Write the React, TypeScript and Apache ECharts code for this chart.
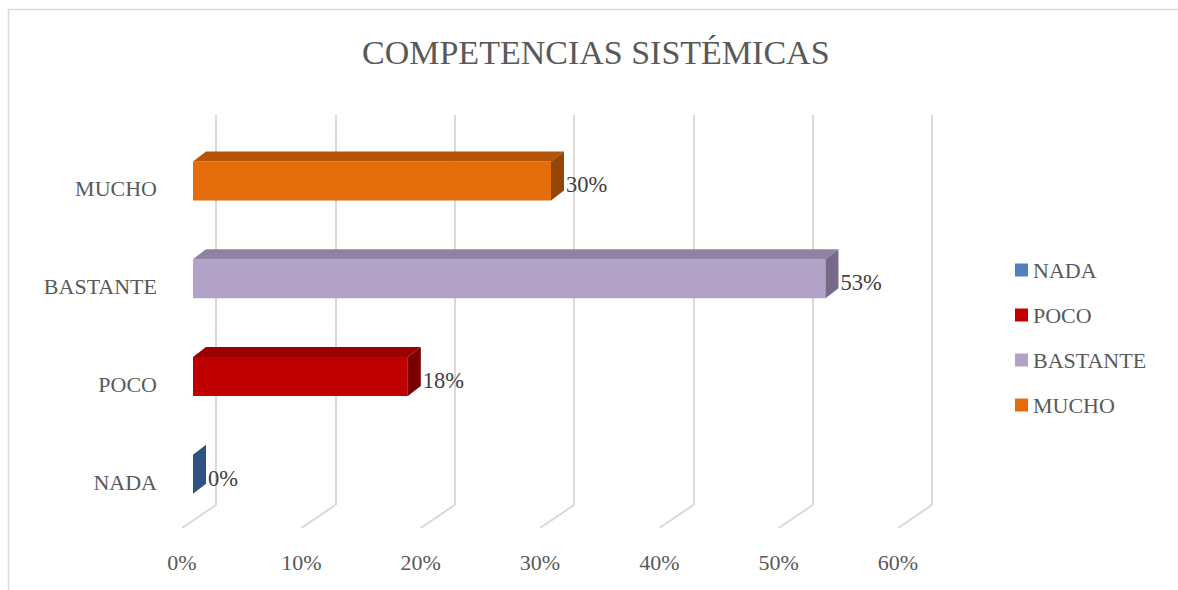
import React, { useEffect, useRef } from "react";
import * as echarts from "echarts";

const title = "COMPETENCIAS SISTÉMICAS";
const categories = ["NADA", "POCO", "BASTANTE", "MUCHO"];
const values = [0, 18, 53, 30];
const xTicks = [0, 10, 20, 30, 40, 50, 60];
const frontColors = ["#4F81BD", "#C00000", "#B3A2C7", "#E46C0A"];
const topColors = ["#3E6696", "#9A0000", "#8E82A0", "#B35408"];
const sideColors = ["#2F5282", "#7B0000", "#776A89", "#954506"];

const FONT = "Liberation Serif";

export default function App() {
  const ref = useRef<HTMLDivElement>(null);
  useEffect(() => {
    const chart = echarts.init(ref.current!, null, { renderer: "svg" });
    const DX = 13, DY = -10, H = 39;
    const barSeries = categories.map((cat, i) => ({
      name: cat,
      type: "custom",
      xAxisIndex: 0,
      yAxisIndex: 0,
      z: 5,
      itemStyle: { color: frontColors[i] },
      data: [[values[i], i]],
      renderItem: (params: any, api: any) => {
        const v = api.value(0);
        const c = api.value(1);
        const s = api.coord([0, c]);
        const e = api.coord([v, c]);
        const x0 = s[0], x1 = e[0];
        const yT = s[1] - H / 2, yB = s[1] + H / 2;
        const children: any[] = [];
        if (x1 - x0 > 0.5) {
          children.push({ type: "rect", shape: { x: x0, y: yT, width: x1 - x0, height: H }, style: { fill: frontColors[i] } });
          children.push({ type: "polygon", shape: { points: [[x0, yT], [x0 + DX, yT + DY], [x1 + DX, yT + DY], [x1, yT]] }, style: { fill: topColors[i] } });
        }
        children.push({ type: "polygon", shape: { points: [[x1, yT], [x1 + DX, yT + DY], [x1 + DX, yB + DY], [x1, yB]] }, style: { fill: sideColors[i] } });
        children.push({
          type: "text",
          style: { text: `${v}%`, x: x1 + DX + 2, y: s[1] + 4, verticalAlign: "middle", align: "left", fontSize: 22.5, fontFamily: FONT, fill: "#404040" },
        });
        return { type: "group", children };
      },
    }));

    chart.setOption({
      animation: false,
      title: {
        text: title,
        left: 362,
        top: 35,
        padding: 0,
        textStyle: { fontSize: 34, fontWeight: "normal", color: "#595959", fontFamily: FONT },
      },
      legend: {
        orient: "vertical",
        left: 1015,
        top: 259,
        padding: 0,
        itemWidth: 13,
        itemHeight: 13,
        itemGap: 23,
        icon: "rect",
        data: categories,
        textStyle: { fontSize: 22, color: "#595959", fontFamily: FONT },
      },
      graphic: [
        { type: "rect", shape: { x: 8.5, y: 9.5, width: 1300, height: 700 }, style: { fill: "none", stroke: "#D9D9D9", lineWidth: 1.5 }, z: -10 },
      ],
      grid: [
        { left: 193, width: 716, top: 132, height: 391 },
        { left: 216, width: 716, top: 115, height: 390 },
        { left: 182, width: 716, top: 115, height: 413 },
        { left: 193, width: 716, top: 140, height: 391 },
      ],
      xAxis: [
        { gridIndex: 0, type: "value", min: 0, max: 60, interval: 10, show: false },
        {
          gridIndex: 1, type: "value", min: 0, max: 60, interval: 10,
          axisLine: { show: false }, axisTick: { show: false }, axisLabel: { show: false },
          splitLine: { show: true, lineStyle: { color: "#D9D9D9", width: 2 } },
        },
        {
          gridIndex: 2, type: "value", min: 0, max: 60, interval: 10,
          axisLine: { show: false }, axisTick: { show: false }, splitLine: { show: false },
          axisLabel: { margin: 23, formatter: "{value}%", fontSize: 22, color: "#595959", fontFamily: FONT },
        },
        { gridIndex: 3, type: "value", min: 0, max: 60, interval: 10, show: false },
      ],
      yAxis: [
        { gridIndex: 0, type: "category", data: categories, show: false },
        { gridIndex: 1, type: "value", min: 0, max: 1, show: false },
        { gridIndex: 2, type: "value", min: 0, max: 1, show: false },
        {
          gridIndex: 3, type: "category", data: categories,
          axisLine: { show: false }, axisTick: { show: false }, splitLine: { show: false },
          axisLabel: { margin: 36, fontSize: 22, color: "#595959", fontFamily: FONT },
        },
      ],
      series: [
        {
          type: "custom",
          xAxisIndex: 1,
          yAxisIndex: 1,
          silent: true,
          z: 1,
          data: xTicks.map((t) => [t, 0]),
          renderItem: (params: any, api: any) => {
            const p = api.coord([api.value(0), 0]);
            return {
              type: "line",
              shape: { x1: p[0], y1: p[1], x2: p[0] - 34, y2: p[1] + 23 },
              style: { stroke: "#D9D9D9", lineWidth: 2 },
            };
          },
        },
        ...barSeries,
      ],
    });
    return () => chart.dispose();
  }, []);
  return <div ref={ref} style={{ position: "absolute", left: 0, top: 0, width: 1178, height: 590, background: "#fff" }} />;
}
